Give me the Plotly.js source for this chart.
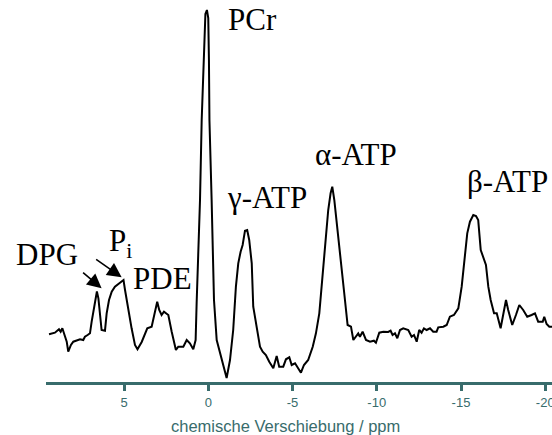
<!DOCTYPE html>
<html>
<head>
<meta charset="utf-8">
<script src="https://cdn.plot.ly/plotly-3.0.1.min.js"></script>
<style>
  html, body { margin: 0; padding: 0; background: #ffffff; }
  #chart { width: 552px; height: 435px; }
</style>
</head>
<body>
<div id="chart"></div>
<script>
// 31P spectrum: chemical shift (ppm) and signal intensity (arbitrary units)
const shiftPpm = [
  9.45, 9.10, 8.86, 8.76, 8.66, 8.55, 8.40, 8.31, 8.15, 8.01,
  7.81, 7.61, 7.42, 7.32, 7.16, 7.02, 6.92, 6.77, 6.61, 6.52,
  6.43, 6.33, 6.13, 6.03, 5.89, 5.73, 5.54, 5.34, 5.18, 5.03,
  4.94, 4.75, 4.55, 4.35, 4.20, 3.95, 3.76, 3.62, 3.36, 3.16,
  3.03, 2.91, 2.77, 2.63, 2.37, 2.17, 1.92, 1.78, 1.48, 1.28,
  1.09, 0.89, 0.75, 0.69, 0.58, 0.49, 0.39, 0.33, 0.24, 0.17,
  0.08, 0.00, -0.04, -0.07, -0.20, -0.34, -0.50, -0.80, -1.09, -1.29,
  -1.48, -1.64, -1.78, -1.92, -2.04, -2.18, -2.31, -2.43, -2.58, -2.67,
  -2.87, -3.07, -3.23, -3.42, -3.62, -3.86, -4.06, -4.21, -4.45, -4.61,
  -4.81, -4.95, -5.15, -5.34, -5.50, -5.68, -5.93, -6.20, -6.39, -6.59,
  -6.73, -6.87, -7.03, -7.12, -7.26, -7.36, -7.48, -7.66, -7.86, -8.05,
  -8.27, -8.47, -8.61, -8.77, -8.90, -9.00, -9.16, -9.36, -9.60, -9.83,
  -9.95, -10.15, -10.39, -10.68, -10.82, -10.94, -11.08, -11.22, -11.38, -11.57,
  -11.87, -12.07, -12.21, -12.37, -12.52, -12.66, -12.80, -12.96, -13.16, -13.35,
  -13.55, -13.65, -13.95, -14.15, -14.34, -14.58, -14.84, -15.04, -15.23, -15.37,
  -15.53, -15.73, -15.89, -16.02, -16.17, -16.32, -16.48, -16.62, -16.76, -16.96,
  -17.12, -17.35, -17.51, -17.67, -17.80, -18.04, -18.26, -18.46, -18.69, -18.93,
  -19.19, -19.39, -19.58, -19.85, -19.94, -20.08, -20.24, -20.40
];
const intensity = [
  47.7, 49.3, 52.7, 50.3, 53.7, 47.0, 40.3, 30.3, 37.0, 40.3,
  41.3, 42.7, 42.0, 45.3, 47.0, 48.7, 60.3, 75.3, 90.5, 83.7,
  68.7, 52.0, 51.3, 68.7, 82.0, 90.3, 95.3, 98.0, 100.3, 102.0,
  92.0, 72.0, 53.7, 37.0, 32.7, 40.0, 47.0, 53.7, 55.3, 68.7,
  80.3, 72.0, 67.0, 70.3, 67.0, 50.3, 32.0, 35.3, 35.3, 42.0,
  38.7, 32.7, 42.0, 79.0, 132.0, 182.0, 262.0, 295.0, 349.0, 368.0,
  372.0, 364.0, 322.0, 262.0, 182.0, 82.0, 42.0, 22.0, 4.0, 22.0,
  52.0, 95.3, 118.7, 130.3, 137.0, 151.3, 152.0, 142.0, 118.7, 75.3,
  55.3, 35.3, 30.3, 27.0, 20.3, 13.7, 26.0, 15.3, 15.3, 22.7,
  24.7, 17.0, 18.7, 13.7, 9.3, 17.0, 22.0, 35.3, 48.7, 68.7,
  95.3, 128.7, 157.0, 172.0, 188.7, 195.3, 182.0, 155.3, 125.3, 92.0,
  57.0, 55.3, 42.0, 45.3, 48.7, 45.3, 50.3, 42.0, 40.3, 41.3,
  39.3, 49.3, 50.3, 50.0, 51.3, 47.0, 48.7, 43.7, 52.0, 53.7,
  52.0, 45.3, 47.0, 40.3, 52.0, 49.3, 53.7, 52.0, 53.7, 50.3,
  50.3, 54.7, 55.3, 57.0, 65.3, 67.0, 73.7, 95.3, 125.3, 148.7,
  160.3, 167.0, 166.0, 162.0, 132.0, 125.3, 117.0, 95.3, 82.0, 68.7,
  68.7, 53.7, 68.7, 82.0, 72.0, 57.0, 67.0, 77.0, 72.0, 65.3,
  67.0, 68.7, 60.3, 60.3, 65.3, 58.0, 55.3, 55.3
];

// Axis ticks
const tickVals = [5, 0, -5, -10, -15, -20];
const tickText = ['5', '0', '-5', '-10', '-15', '-20'];

// Peak labels: text, shift, intensity
const peakNames = ['PCr', 'γ-ATP', 'α-ATP', 'β-ATP', 'DPG', 'P<sub>i</sub>', 'PDE'];
const peakLabelX = [-2.62, -3.48, -8.77, -17.76, 9.57, 6.01, 2.69];
const peakLabelY = [363, 185, 228, 201, 128, 139, 104];

// Arrows pointing at the DPG and Pi signals
const arrowTipX = [6.33, 5.14];
const arrowTipY = [93.7, 104.7];

const teal = '#386c6c';
const serif = '"Liberation Serif", "Times New Roman", serif';
const sans = '"Liberation Sans", Arial, sans-serif';

const annotations = [];
peakNames.forEach((name, i) => {
  annotations.push({
    x: peakLabelX[i], y: peakLabelY[i], xref: 'x', yref: 'y',
    text: name, showarrow: false,
    xanchor: name.startsWith('P<sub>') ? 'left' : 'center', yanchor: 'middle',
    font: { family: serif, size: 31, color: '#000000' }
  });
});
const arrowOffsets = [[-20, -17], [-27, -19]];
arrowTipX.forEach((x, i) => {
  annotations.push({
    x: x, y: arrowTipY[i], xref: 'x', yref: 'y',
    text: '', showarrow: true,
    ax: arrowOffsets[i][0], ay: arrowOffsets[i][1],
    arrowhead: 2, arrowsize: 1.8, arrowwidth: 1.6, arrowcolor: '#000000',
    standoff: 0
  });
});
annotations.push({
  x: 0.474, y: -0.115, xref: 'paper', yref: 'paper',
  text: 'chemische Verschiebung / ppm', showarrow: false,
  xanchor: 'center', yanchor: 'middle',
  font: { family: sans, size: 16.5, color: teal }
});

const trace = {
  type: 'scatter', mode: 'lines',
  x: shiftPpm, y: intensity,
  line: { color: '#000000', width: 2 },
  hoverinfo: 'skip'
};

const layout = {
  width: 552, height: 435,
  margin: { l: 46, r: 0, t: 0, b: 53 },
  paper_bgcolor: '#ffffff', plot_bgcolor: '#ffffff',
  showlegend: false,
  xaxis: {
    range: [9.63, -20.40],
    showgrid: false, zeroline: false,
    showline: true, linecolor: teal, linewidth: 3,
    ticks: 'outside', ticklen: 6, tickwidth: 3, tickcolor: teal,
    tickvals: tickVals, ticktext: tickText,
    ticklabeloverflow: 'allow',
    tickfont: { family: sans, size: 13, color: teal }
  },
  yaxis: {
    range: [0, 382],
    visible: false, showgrid: false, zeroline: false
  },
  annotations: annotations
};

Plotly.newPlot('chart', [trace], layout, { staticPlot: true, displayModeBar: false });
</script>
</body>
</html>
